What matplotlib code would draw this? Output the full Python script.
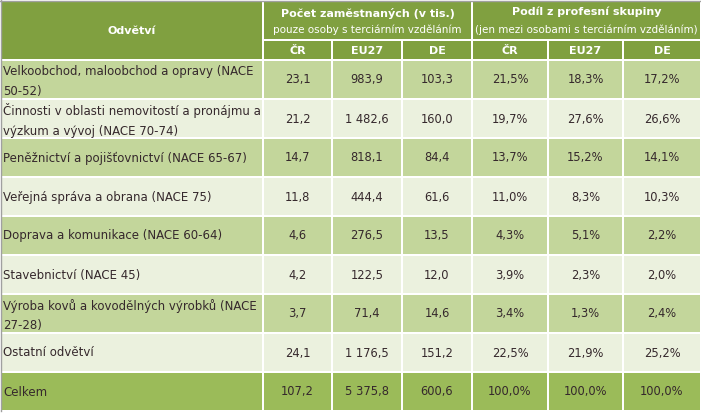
import matplotlib
matplotlib.use("Agg")
import matplotlib.pyplot as plt
from matplotlib.patches import Rectangle

# ---------------- data ----------------
categories = [
    "Velkoobchod, maloobchod a opravy (NACE\n50-52)",
    "Činnosti v oblasti nemovitostí a pronájmu a\nvýzkum a vývoj (NACE 70-74)",
    "Peněžnictví a pojišťovnictví (NACE 65-67)",
    "Veřejná správa a obrana (NACE 75)",
    "Doprava a komunikace (NACE 60-64)",
    "Stavebnictví (NACE 45)",
    "Výroba kovů a kovodělných výrobků (NACE\n27-28)",
    "Ostatní odvětví",
    "Celkem",
]
count_cz = ["23,1", "21,2", "14,7", "11,8", "4,6", "4,2", "3,7", "24,1", "107,2"]
count_eu = ["983,9", "1 482,6", "818,1", "444,4", "276,5", "122,5", "71,4", "1 176,5", "5 375,8"]
count_de = ["103,3", "160,0", "84,4", "61,6", "13,5", "12,0", "14,6", "151,2", "600,6"]
share_cz = ["21,5%", "19,7%", "13,7%", "11,0%", "4,3%", "3,9%", "3,4%", "22,5%", "100,0%"]
share_eu = ["18,3%", "27,6%", "15,2%", "8,3%", "5,1%", "2,3%", "1,3%", "21,9%", "100,0%"]
share_de = ["17,2%", "26,6%", "14,1%", "10,3%", "2,2%", "2,0%", "2,4%", "25,2%", "100,0%"]

header_first = "Odvětví"
group1_title = "Počet zaměstnaných (v tis.)"
group1_sub = "pouze osoby s terciárním vzděláním"
group2_title = "Podíl z profesní skupiny"
group2_sub = "(jen mezi osobami s terciárním vzděláním)"
sub_headers = ["ČR", "EU27", "DE", "ČR", "EU27", "DE"]

# ---------------- layout ----------------
W, H = 701, 413
col_edges = [0, 263, 332, 402, 472, 548, 623, 701]
hdr_top = (0, 40)
hdr_sub = (40, 60)
row_start, row_h = 60, 39
gap = 1.0

c_header = "#80a040"
c_odd = "#c3d69b"
c_even = "#ebf1de"
c_total = "#9bbb59"
c_text = "#35282c"
fam = ["DejaVu Sans"]
fs_lbl = 8.5
fs_num = 8.3
fs_hdr = 8.0
fs_small = 7.45

fig = plt.figure(figsize=(W / 100, H / 100), dpi=100)
fig.patch.set_facecolor("white")
ax = fig.add_axes([0, 0, 1, 1])
ax.set_xlim(0, W)
ax.set_ylim(H, 0)
ax.axis("off")


def cell(x0, x1, y0, y1, color):
    ax.add_patch(Rectangle((x0 + gap, y0 + gap), (x1 - x0) - 2 * gap,
                           (y1 - y0) - 2 * gap, facecolor=color,
                           edgecolor="none", zorder=1))


# header
cell(col_edges[0], col_edges[1], 0, hdr_sub[1], c_header)
cell(col_edges[1], col_edges[4], hdr_top[0], hdr_top[1], c_header)
cell(col_edges[4], col_edges[7], hdr_top[0], hdr_top[1], c_header)
for i in range(6):
    cell(col_edges[i + 1], col_edges[i + 2], hdr_sub[0], hdr_sub[1], c_header)

ax.text((col_edges[0] + col_edges[1]) / 2, 31, header_first, ha="center",
        va="center", color="white", fontweight="bold", fontsize=fs_hdr, family=fam)
for (a, b), t, s, ty in [((1, 4), group1_title, group1_sub, 13.5),
                         ((4, 7), group2_title, group2_sub, 12)]:
    xc = (col_edges[a] + col_edges[b]) / 2
    ax.text(xc, ty, t, ha="center", va="center", color="white",
            fontweight="bold", fontsize=fs_hdr, family=fam)
    ax.text(xc, 29.5, s, ha="center", va="center", color="white",
            fontsize=fs_small, family=fam)
for i, t in enumerate(sub_headers):
    xc = (col_edges[i + 1] + col_edges[i + 2]) / 2
    ax.text(xc, 50.5, t, ha="center", va="center", color="white",
            fontweight="bold", fontsize=fs_hdr, family=fam)

# body
cols = [count_cz, count_eu, count_de, share_cz, share_eu, share_de]
n = len(categories)
for r in range(n):
    y0 = row_start + r * row_h
    y1 = y0 + row_h
    if r == n - 1:
        color = c_total
    else:
        color = c_odd if r % 2 == 0 else c_even
    for c in range(7):
        cell(col_edges[c], col_edges[c + 1], y0, y1, color)
    yc = (y0 + y1) / 2 + 0.5
    multi = "\n" in categories[r]
    ax.text(col_edges[0] + 3, yc + (1.5 if multi else 0), categories[r],
            ha="left", va="center", color=c_text, fontsize=fs_lbl,
            family=fam, linespacing=1.62)
    for c, vals in enumerate(cols):
        xc = (col_edges[c + 1] + col_edges[c + 2]) / 2
        ax.text(xc, yc, vals[r], ha="center", va="center", color=c_text,
                fontsize=fs_num, family=fam)

# thin gray border top/left
ax.plot([0.5, 0.5], [0, H - 2], color="#a0a0a0", lw=1, zorder=3)
ax.plot([0, W], [0.5, 0.5], color="#a0a0a0", lw=1, zorder=3)

fig.savefig("out.png", dpi=100, facecolor="white")
